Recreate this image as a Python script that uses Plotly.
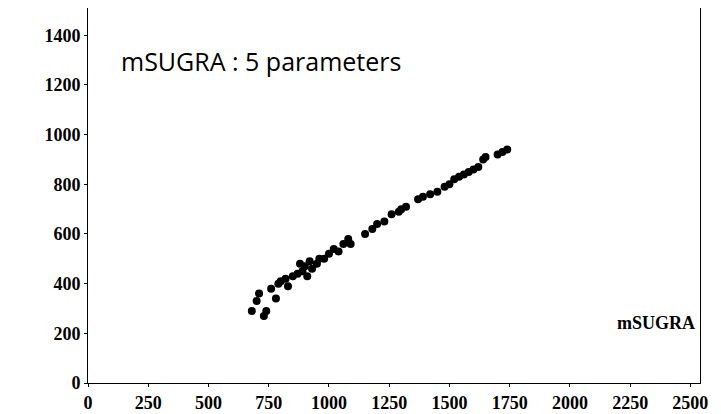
import plotly.graph_objects as go

x_vals = [680,700,710,730,740,760,780,790,800,820,830,850,870,880,890,900,910,920,930,950,960,980,1000,1020,1040,1060,1080,1090,1150,1180,1200,1230,1260,1290,1300,1320,1370,1390,1420,1450,1480,1500,1520,1540,1560,1580,1600,1620,1640,1650,1700,1720,1740]
y_vals = [290,330,360,270,290,380,340,400,410,420,390,430,440,480,450,470,430,490,460,480,500,500,520,540,530,560,580,560,600,620,640,650,680,690,700,710,740,750,760,770,790,800,820,830,840,850,860,870,900,910,920,930,940]
x_ticks = [0,250,500,750,1000,1250,1500,1750,2000,2250,2500]
y_ticks = [0,200,400,600,800,1000,1200,1400]

fig = go.Figure(go.Scatter(x=x_vals, y=y_vals, mode="markers",
                           marker=dict(color="black", size=8)))
ax = dict(showgrid=False, zeroline=False, showline=True, linecolor="black", linewidth=1,
          mirror=True, ticks="outside", ticklen=3, tickcolor="black", automargin=False,
          tickfont=dict(family="Liberation Serif", size=18, color="black"))
fig.update_xaxes(range=[0, 2540], tickvals=x_ticks, ticktext=[f"<b>{t}</b>" for t in x_ticks], **ax)
fig.update_yaxes(range=[0, 1510], tickvals=y_ticks, ticktext=[f"<b>{t}</b>" for t in y_ticks], **ax)
fig.update_layout(width=721, height=414, margin=dict(l=80, r=29, t=0, b=39),
                  plot_bgcolor="white", paper_bgcolor="white", showlegend=False,
                  annotations=[
                      dict(x=0.05, y=0.86, xref="paper", yref="paper", xanchor="left", yanchor="middle",
                           text="mSUGRA : 5 parameters", showarrow=False,
                           font=dict(family="Open Sans", size=25, color="black")),
                      dict(x=0.995, y=0.16, xref="paper", yref="paper", xanchor="right", yanchor="middle",
                           text="<b>mSUGRA</b>", showarrow=False,
                           font=dict(family="Liberation Serif", size=18, color="black"))])
fig.write_html("out.html")
